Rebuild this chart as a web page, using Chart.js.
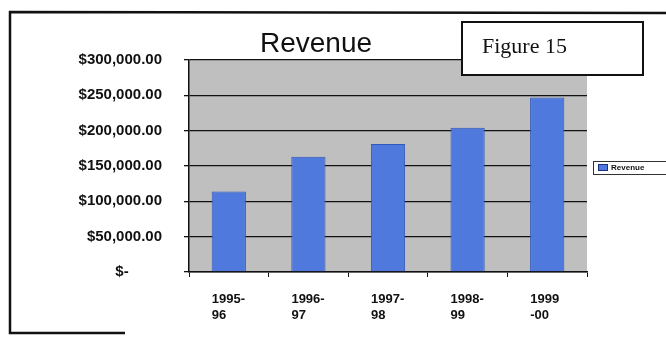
<!DOCTYPE html>
<html lang="en">
<head>
<meta charset="UTF-8">
<script src="https://cdn.jsdelivr.net/npm/chart.js"></script>
<style>
  * { margin: 0; padding: 0; }
  body { background: #fff; }
  #wrap { width: 666px; height: 337px; }
</style>
</head>
<body>
<div id="wrap"><canvas id="myChart" width="666" height="337"></canvas></div>
<script>
  // data
  const categories = [['1995-', '96'], ['1996-', '97'], ['1997-', '98'], ['1998-', '99'], ['1999', '-00']];
  const revenue = [114000, 163000, 181000, 204000, 247000];
  const seriesName = 'Revenue';
  const chartTitle = 'Revenue';
  const figureLabel = 'Figure 15';

  const money = (v) => v === 0 ? '$-        ' :
    '$' + v.toLocaleString('en-US', { minimumFractionDigits: 2, maximumFractionDigits: 2 });

  // gray plot area, title, figure box, legend and page frame
  const decor = {
    id: 'decor',
    beforeDraw(chart) {
      const ctx = chart.ctx;
      const a = chart.chartArea;
      ctx.save();
      ctx.fillStyle = '#fff';
      ctx.fillRect(0, 0, chart.width, chart.height);
      ctx.fillStyle = '#bfbfbf';
      ctx.fillRect(a.left, a.top, a.right - a.left, a.bottom - a.top);
      ctx.restore();
    },
    afterDraw(chart) {
      const ctx = chart.ctx;
      ctx.save();
      // page frame
      ctx.strokeStyle = '#111';
      ctx.lineWidth = 2.5;
      ctx.beginPath();
      ctx.moveTo(125, 333);
      ctx.lineTo(10, 333);
      ctx.lineTo(10, 12);
      ctx.lineTo(666, 13);
      ctx.stroke();

      // title
      ctx.fillStyle = '#111';
      ctx.font = '28px "Liberation Sans", Arial, sans-serif';
      ctx.textAlign = 'center';
      ctx.textBaseline = 'alphabetic';
      ctx.fillText(chartTitle, 316, 52);

      // figure box
      ctx.fillStyle = '#fff';
      ctx.fillRect(462, 22, 181, 53);
      ctx.lineWidth = 2;
      ctx.strokeStyle = '#111';
      ctx.strokeRect(462, 22, 181, 53);
      ctx.fillStyle = '#111';
      ctx.font = '22px "Liberation Serif", "Times New Roman", serif';
      ctx.textAlign = 'left';
      ctx.fillText(figureLabel, 482, 53);

      // legend
      ctx.lineWidth = 1;
      ctx.strokeStyle = '#333';
      ctx.strokeRect(593.5, 161.5, 80, 13);
      ctx.fillStyle = '#4f79dc';
      ctx.fillRect(598, 164, 10, 7);
      ctx.strokeStyle = '#1d2f80';
      ctx.strokeRect(598.5, 164.5, 9, 6);
      ctx.fillStyle = '#111';
      ctx.font = 'bold 8px "Liberation Sans", Arial, sans-serif';
      ctx.textBaseline = 'middle';
      ctx.fillText(seriesName, 611, 168);
      ctx.restore();
    }
  };

  const config = {
    type: 'bar',
    data: {
      labels: categories,
      datasets: [{
        label: seriesName,
        data: revenue,
        backgroundColor: '#4f79dc',
        borderColor: '#3158b8',
        borderWidth: 1,
        barPercentage: 0.43,
        categoryPercentage: 1
      }]
    },
    plugins: [decor],
    options: {
      responsive: false,
      animation: false,
      layout: { padding: { top: 60, right: 79, bottom: 5, left: 0 } },
      plugins: {
        legend: { display: false },
        title: { display: false },
        tooltip: { enabled: false }
      },
      scales: {
        x: {
          afterFit: (s) => { s.height = 60; },
          grid: {
            drawOnChartArea: false,
            drawTicks: true,
            tickLength: 5,
            color: '#111',
            offset: true
          },
          border: { color: '#111', width: 1.5 },
          ticks: {
            color: '#111',
            align: 'start',
            labelOffset: -17,
            padding: 14,
            maxRotation: 0,
            autoSkip: false,
            font: { family: '"Liberation Sans", Arial, sans-serif', size: 13, weight: 'bold', lineHeight: 1.25 }
          }
        },
        y: {
          min: 0,
          max: 300000,
          afterFit: (s) => { s.width = 189; },
          grid: {
            color: '#111',
            lineWidth: 1.3,
            tickLength: 5
          },
          border: { color: '#111', width: 1.5 },
          ticks: {
            stepSize: 50000,
            color: '#111',
            padding: 22,
            callback: (v) => money(v),
            font: { family: '"Liberation Sans", Arial, sans-serif', size: 15, weight: 'bold' }
          }
        }
      }
    }
  };

  new Chart(document.getElementById('myChart'), config);
</script>
</body>
</html>
